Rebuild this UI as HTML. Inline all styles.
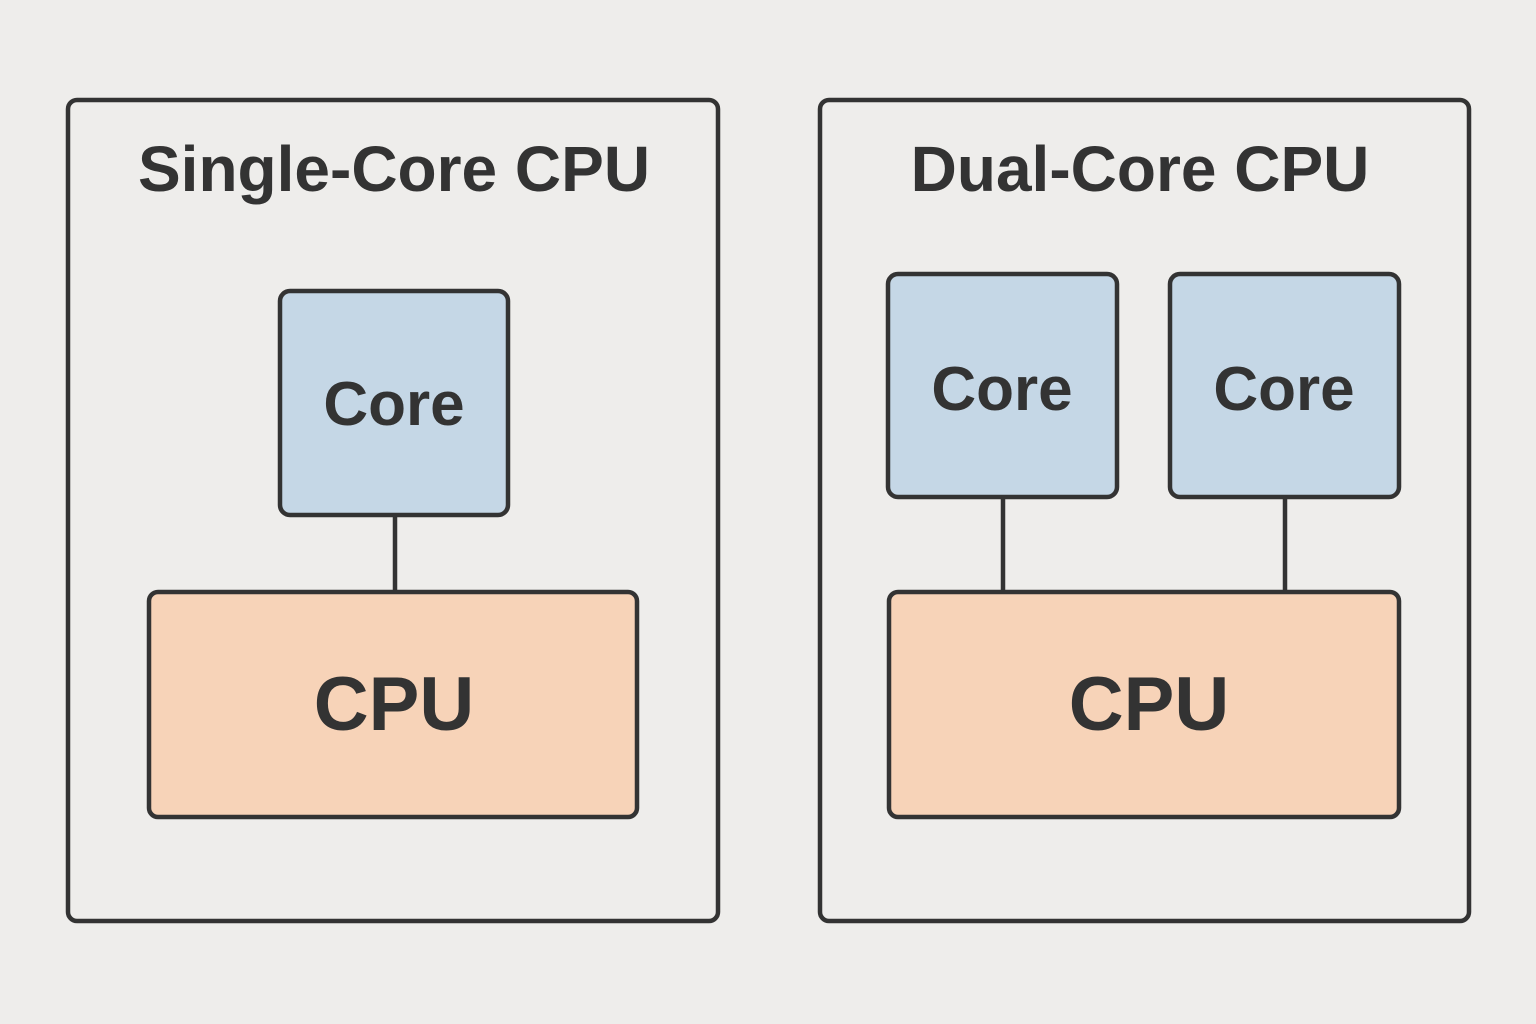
<!DOCTYPE html>
<html><head><meta charset="utf-8"><style>
html,body{margin:0;padding:0;background:#eeedeb;}
svg{display:block}
text{font-family:"Liberation Sans","DejaVu Sans",sans-serif;font-weight:bold;fill:#333;text-anchor:middle}
</style></head><body>
<svg width="1536" height="1024" viewBox="0 0 1536 1024" xmlns="http://www.w3.org/2000/svg">
<rect x="0" y="0" width="1536" height="1024" fill="#eeedeb"/>
<g stroke="#333" stroke-width="4.5">
<rect x="68" y="100" width="650" height="821" rx="9" fill="none"/>
<rect x="820" y="100" width="649" height="821" rx="9" fill="none"/>
<line x1="395" y1="515" x2="395" y2="592"/>
<line x1="1003" y1="497" x2="1003" y2="592"/>
<line x1="1285" y1="497" x2="1285" y2="592"/>
<rect x="280" y="291" width="228" height="224" rx="10" fill="#c5d7e6"/>
<rect x="149" y="592" width="488" height="225" rx="9" fill="#f7d3b8"/>
<rect x="888" y="274" width="229" height="223" rx="10" fill="#c5d7e6"/>
<rect x="1170" y="274" width="229" height="223" rx="10" fill="#c5d7e6"/>
<rect x="889" y="592" width="510" height="225" rx="9" fill="#f7d3b8"/>
</g>
<text x="394" y="191" font-size="64">Single-Core CPU</text>
<text x="1140" y="191" font-size="64">Dual-Core CPU</text>
<text x="394" y="425" font-size="62">Core</text>
<text x="1002" y="410" font-size="62">Core</text>
<text x="1284" y="410" font-size="62">Core</text>
<text x="394" y="730" font-size="76">CPU</text>
<text x="1149" y="730" font-size="76">CPU</text>
</svg>
</body></html>
